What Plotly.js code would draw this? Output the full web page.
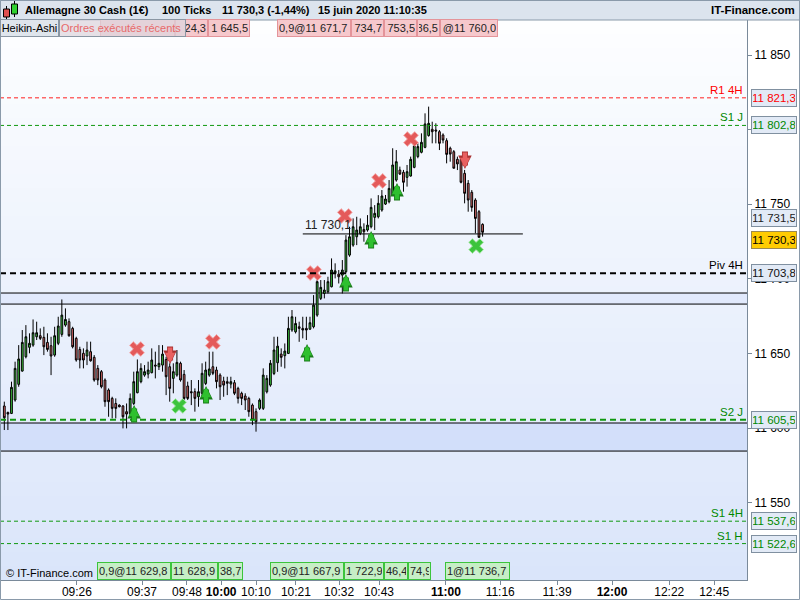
<!DOCTYPE html>
<html><head><meta charset="utf-8">
<script src="https://cdn.plot.ly/plotly-3.0.1.min.js"></script>
<style>html,body{margin:0;padding:0;background:#fff}#chart{width:800px;height:600px}</style>
</head><body><div id="chart"></div>
<script>
// ---- Heikin-Ashi candles (100 ticks each), in time order ----
const open = [11614.8,11610.5,11609.8,11618.8,11629.3,11638.2,11647.8,11654.1,11655.6,11661.2,
11661.9,11660.8,11657.4,11655.2,11648.9,11656.8,11662.8,11669.0,11671.3,11666.8,
11660.1,11652.7,11650.1,11648.3,11651.2,11647.4,11640.0,11637.8,11632.2,11625.5,
11619.9,11616.5,11615.4,11614.8,11611.0,11609.8,11616.5,11623.7,11631.1,11635.5,
11636.2,11637.1,11642.2,11641.1,11642.2,11646.0,11641.1,11633.3,11635.5,11643.4,
11636.0,11628.2,11624.4,11624.4,11621.0,11623.3,11629.9,11635.5,11641.1,11638.9,
11635.5,11631.5,11631.1,11629.5,11630.4,11626.6,11623.3,11621.5,11619.9,11615.4,
11611.0,11613.2,11613.2,11624.3,11628.8,11636.6,11643.8,11649.6,11648.5,11650.0,
11665.7,11664.5,11667.9,11666.8,11666.8,11666.3,11667.9,11675.7,11686.9,11690.2,
11691.4,11694.7,11703.6,11703.2,11702.5,11704.8,11715.9,11722.6,11728.2,11730.5,
11733.1,11732.7,11734.9,11741.2,11741.6,11746.1,11750.1,11751.7,11756.2,11766.2,
11772.9,11771.4,11768.0,11768.9,11774.7,11781.9,11784.8,11788.1,11796.0,11800.2,
11799.7,11798.6,11796.4,11792.6,11787.5,11785.2,11780.1,11780.1,11770.7,11764.0,
11758.0,11752.8,11745.0,11736.5];
const high = [11617.7,11611.0,11631.1,11644.5,11655.6,11665.7,11669.0,11663.5,11672.8,11671.3,
11666.8,11667.9,11663.5,11661.2,11667.9,11674.6,11686.2,11680.2,11673.5,11667.9,
11661.2,11654.5,11653.4,11657.9,11657.9,11648.9,11642.2,11638.9,11633.3,11626.6,
11621.0,11619.9,11615.9,11615.4,11616.5,11623.2,11637.8,11646.0,11643.4,11642.2,
11644.5,11653.4,11651.2,11655.6,11655.6,11647.8,11643.4,11643.4,11652.3,11644.5,
11638.9,11631.1,11632.2,11626.6,11632.2,11643.4,11644.5,11651.2,11651.2,11641.1,
11636.7,11634.4,11634.4,11634.4,11632.2,11627.7,11624.4,11623.3,11621.0,11616.5,
11613.2,11619.9,11640.0,11635.5,11645.6,11661.2,11661.2,11653.4,11656.7,11674.6,
11679.1,11674.6,11671.3,11674.6,11674.6,11674.6,11689.1,11701.4,11699.2,11699.2,
11701.4,11713.7,11710.4,11705.9,11712.6,11729.3,11734.9,11740.5,11741.6,11740.5,
11737.2,11742.7,11753.9,11749.4,11756.1,11759.5,11756.2,11766.2,11787.5,11786.3,
11775.2,11773.0,11776.3,11781.9,11791.9,11790.8,11797.5,11810.9,11815.4,11805.3,
11804.2,11799.7,11797.5,11794.2,11788.6,11786.3,11781.9,11781.9,11773.0,11766.2,
11759.5,11754.0,11746.1,11737.2];
const low = [11598.7,11598.7,11609.4,11617.7,11627.7,11637.8,11646.7,11650.1,11654.5,11659.0,
11659.0,11648.9,11651.2,11635.5,11647.8,11655.6,11661.2,11667.9,11661.2,11653.4,
11644.5,11640.0,11640.0,11642.2,11644.5,11631.1,11628.8,11626.6,11614.3,11607.6,
11606.5,11606.5,11613.9,11599.8,11599.8,11608.7,11615.4,11623.3,11630.0,11634.4,
11633.3,11636.7,11633.3,11638.9,11637.8,11622.1,11617.7,11623.3,11634.4,11631.1,
11617.7,11618.8,11615.4,11611.0,11614.3,11621.0,11628.8,11634.4,11635.5,11626.6,
11618.8,11621.0,11622.1,11626.6,11622.1,11616.5,11615.4,11612.1,11607.6,11602.0,
11597.6,11612.1,11612.1,11623.2,11627.7,11635.5,11637.7,11641.1,11640.0,11649.6,
11664.5,11663.4,11657.8,11660.1,11659.0,11665.7,11666.8,11674.6,11685.8,11686.9,
11690.2,11694.3,11700.3,11696.9,11690.2,11703.6,11714.8,11721.5,11722.6,11729.3,
11724.9,11731.6,11733.8,11732.7,11740.5,11745.0,11749.5,11750.6,11756.2,11765.1,
11769.6,11758.4,11761.8,11768.5,11774.1,11780.8,11784.1,11787.5,11795.3,11790.8,
11790.8,11786.3,11790.8,11777.4,11778.5,11774.1,11772.9,11764.0,11750.6,11745.0,
11745.0,11730.5,11727.8,11728.3];
const close = [11606.9,11609.4,11627.3,11640.0,11646.3,11657.4,11661.2,11656.8,11663.9,11663.9,
11660.1,11654.5,11652.7,11648.3,11661.9,11668.4,11675.7,11672.8,11661.9,11654.5,
11645.6,11645.6,11645.6,11652.3,11645.1,11632.2,11632.2,11627.7,11617.7,11617.7,
11613.2,11613.2,11614.3,11607.6,11609.4,11619.9,11631.1,11637.8,11640.0,11637.8,
11638.9,11645.6,11641.6,11643.4,11649.6,11634.4,11626.6,11637.8,11644.0,11632.2,
11619.9,11619.9,11623.7,11619.9,11624.4,11636.7,11638.9,11639.6,11636.7,11631.1,
11627.7,11628.8,11630.0,11631.1,11623.3,11619.9,11619.9,11618.8,11611.0,11605.4,
11604.3,11618.8,11635.5,11633.3,11643.4,11652.3,11654.9,11647.4,11651.6,11666.8,
11674.6,11670.1,11666.8,11665.7,11665.7,11670.6,11682.4,11698.1,11694.3,11692.5,
11698.1,11705.9,11705.4,11701.4,11705.9,11726.0,11728.2,11734.9,11732.7,11734.9,
11731.6,11736.0,11747.9,11743.9,11750.6,11755.5,11753.5,11760.6,11776.3,11778.5,
11770.2,11764.7,11771.8,11780.1,11789.2,11788.6,11791.5,11803.8,11804.2,11798.6,
11799.1,11790.8,11793.0,11783.4,11783.6,11774.1,11777.0,11764.7,11757.3,11752.8,
11747.9,11740.5,11727.8,11731.2];

// ---- time axis (tick chart: labels placed at candle slots) ----
const tickSlots  = [20.2,38.3,50.8,60.3,70.0,81.1,93.1,104.2,122.8,137.9,153.7,169.0,184.9,197.4];
const tickLabels = ["09:26","09:37","09:48","10:00","10:10","10:21","10:32","10:43","11:00","11:16","11:39","12:00","12:22","12:45"];
const boldTicks  = ["10:00","11:00","12:00"];

// ---- price levels ----
const levelNames  = ["R1 4H","S1 J","Piv 4H","S2 J","S1 4H","S1 H"];
const levelPrices = [11821.3,11802.8,11703.8,11605.5,11537.6,11522.6];
const levelText   = ["11 821,3","11 802,8","11 703,8","11 605,5","11 537,6","11 522,6"];
const bandLow  = [11683.1,11584.6];
const bandHigh = [11690.5,11603.4];
const orderLevel = 11730.1, orderFrom = 83, orderTo = 144.2;
const lastPrice = 11730.3, prevClose = 11731.5;

// ---- executions markers ----
const sellX = [36.9,58.0,86.1,94.7,104.2,113.1];
const sellY = [11653.0,11657.7,11703.9,11742.1,11765.6,11793.7];
const buyX  = [48.6,131.2];
const buyY  = [11614.8,11722.0];
const upX = [36.1,56.1,84.2,95.0,102.0,109.2];
const upY = [11615.5,11628.2,11656.3,11703.2,11732.1,11764.2];
const downX = [46.1,128.1];
const downY = [11642.9,11773.6];

// ---- order boxes (top: pink, bottom: green) ----
const topBoxText = ["","24,3","1 645,5","0,9@11 671,7","734,7","753,5","86,5","@11 760,0"];
const botBoxText = ["0,9@11 629,8","11 628,9","38,7","0,9@11 667,9","1 722,9","46,4","74,9","1@11 736,7"];

const idx = open.map((_, i) => i);
const F = "Liberation Sans, Arial, sans-serif";
const W = 747, H = 560; // plot area in px
const PX = x => x / W, PY = y => (580 - y) / H;

const shapes = [];
// background gradient
const nb = 40;
for (let k = 0; k < nb; k++) {
  const t = (k + 0.5) / nb;
  const r = Math.round(253 - (253 - 218) * t), g = Math.round(254 - (254 - 229) * t), b = 255 - Math.round(5 * t);
  shapes.push({type:"rect", xref:"paper", yref:"paper", x0:0, x1:1, y0:1 - (k + 1) / nb, y1:1 - k / nb,
    fillcolor:`rgb(${r},${g},${b})`, line:{width:0}, layer:"below"});
}
// bands
for (let k = 0; k < bandLow.length; k++) {
  shapes.push({type:"rect", xref:"paper", yref:"y", x0:0, x1:1, y0:bandLow[k], y1:bandHigh[k],
    fillcolor: k === 1 ? "rgba(200,215,250,0.6)" : "rgba(205,218,248,0.35)", line:{width:0}, layer:"below"});
  [bandLow[k], bandHigh[k]].forEach(v => shapes.push({type:"line", xref:"paper", yref:"y", x0:0, x1:1, y0:v, y1:v,
    line:{color:"#000", width:1}, layer:"below"}));
}
// level lines
const levelStyle = [
  {color:"#ff2020", width:1, dash:"4px,3px"},
  {color:"#119911", width:1, dash:"4px,3px"},
  {color:"#000000", width:2, dash:"6px,4px"},
  {color:"#119911", width:2, dash:"6px,4px"},
  {color:"#119911", width:1, dash:"4px,3px"},
  {color:"#119911", width:1, dash:"4px,3px"}];
levelPrices.forEach((v, k) => shapes.push({type:"line", xref:"paper", yref:"y", x0:0, x1:1, y0:v, y1:v, line:levelStyle[k]}));
// order level line
shapes.push({type:"line", xref:"x", yref:"y", x0:orderFrom, x1:orderTo, y0:orderLevel, y1:orderLevel, line:{color:"#000", width:1}});
// header bar
shapes.push({type:"rect", xref:"paper", yref:"paper", x0:0, x1:800 / W, y0:1, y1:1 + 20 / H, fillcolor:"#dce4ee", line:{color:"#8a9aaa", width:1}});
// icon
shapes.push({type:"line", xref:"paper", yref:"paper", x0:PX(6.5), x1:PX(6.5), y0:PY(19), y1:PY(6), line:{color:"#000", width:1}});
shapes.push({type:"rect", xref:"paper", yref:"paper", x0:PX(3.5), x1:PX(9.5), y0:PY(17), y1:PY(9), fillcolor:"#e05050", line:{color:"#000", width:1}});
shapes.push({type:"line", xref:"paper", yref:"paper", x0:PX(14.5), x1:PX(14.5), y0:PY(17), y1:PY(1), line:{color:"#000", width:1}});
shapes.push({type:"rect", xref:"paper", yref:"paper", x0:PX(11.5), x1:PX(17.5), y0:PY(14), y1:PY(4), fillcolor:"#30d030", line:{color:"#000", width:1}});
// outer frame
shapes.push({type:"rect", xref:"paper", yref:"paper", x0:PX(0.5), x1:PX(799.5), y0:PY(599.5), y1:PY(0.5), line:{color:"#8a9aaa", width:1}});

const BF = 11; // box font size
const ann = [];
function box(x0, x1, yc, text, opt) {
  ann.push(Object.assign({xref:"paper", yref:"paper", x:PX(x0), xanchor:"left", y:PY(yc), yanchor:"middle",
    text:text, showarrow:false, width:x1 - x0 - 4, height:14, borderpad:1, borderwidth:1,
    font:{family:F, size:BF, color:"#222"}}, opt));
}
// header texts
const head = [[23,"Allemagne 30 Cash (1€)"],[160,"100 Ticks"],[220,"11 730,3 (-1,44%)"],[316,"15 juin 2020 11:10:35"]];
head.forEach(h => ann.push({xref:"paper", yref:"paper", x:PX(h[0]), xanchor:"left", y:PY(10), yanchor:"middle", showarrow:false,
  text:"<b>" + h[1] + "</b>", font:{family:F, size:11, color:"#000"}}));
ann.push({xref:"paper", yref:"paper", x:PX(797), xanchor:"right", y:PY(10), yanchor:"middle", showarrow:false,
  text:"<b>IT-Finance.com</b>", font:{family:F, size:11.5, color:"#000"}});
// top pink boxes
const topEdges = [[100,175],[175,208],[208,250],[277,351],[351,384],[384,417],[417,440],[440,498]];
topEdges.forEach((e, k) => box(e[0], e[1], 28.5, topBoxText[k], {bgcolor:"#f6c8cc", bordercolor:"#e4949a", align: k === 3 ? "left" : "right"}));
box(0, 59, 28.5, "Heikin-Ashi", {bgcolor:"#dfe5ec", bordercolor:"#8a96a3", font:{family:F, size:BF, color:"#000"}});
box(59, 186, 28.5, "Ordres exécutés récents", {bgcolor:"rgba(222,214,222,0.75)", bordercolor:"#8a96a3", align:"left", font:{family:F, size:BF, color:"#e86a6a"}});
// bottom green boxes
const botEdges = [[97,171],[171,218],[218,243],[270,344],[344,384],[384,408],[408,431],[445,510]];
botEdges.forEach((e, k) => box(e[0], e[1], 571, botBoxText[k], {bgcolor:"#c6eec6", bordercolor:"#3cc43c", align:"left"}));
ann.push({xref:"paper", yref:"paper", x:PX(4), xanchor:"left", y:PY(573), yanchor:"middle", showarrow:false,
  text:"© IT-Finance.com", font:{family:F, size:11, color:"#000"}});
// level labels and axis boxes
const levelColor = ["#ff0000","#008800","#000000","#008800","#008800","#008800"];
levelPrices.forEach((v, k) => {
  ann.push({xref:"paper", yref:"y", x:PX(745), xanchor:"right", y:v, yanchor:"bottom", showarrow:false,
    text:levelNames[k], font:{family:F, size:11.5, color:levelColor[k]}});
  ann.push({xref:"paper", yref:"y", x:PX(751), xanchor:"left", y:v, yanchor:"middle", showarrow:false,
    text:levelText[k], width:42, height:14, borderpad:1, borderwidth:1, bordercolor:"#8090a0", bgcolor:"#e2eaf6",
    font:{family:F, size:BF + 0.5, color:levelColor[k] === "#000000" ? "#111" : levelColor[k]}});
});
ann.push({xref:"paper", yref:"y", x:PX(751), xanchor:"left", y:prevClose, yanchor:"middle", yshift:14, showarrow:false,
  text:"11 731,5", width:42, height:14, borderpad:1, borderwidth:1, bordercolor:"#8090a0", bgcolor:"#e2eaf6",
  font:{family:F, size:BF + 0.5, color:"#222"}});
ann.push({xref:"paper", yref:"y", x:PX(751), xanchor:"left", y:lastPrice, yanchor:"middle", yshift:-6, showarrow:false,
  text:"11 730,3", width:42, height:14, borderpad:1, borderwidth:1, bordercolor:"#9a8a50", bgcolor:"#ffcc00",
  font:{family:F, size:BF + 0.5, color:"#000"}});
ann.push({xref:"x", yref:"y", x:orderFrom, xanchor:"left", y:orderLevel, yanchor:"bottom", showarrow:false,
  text:"11 730,1", font:{family:F, size:12, color:"#222"}});
// arrows (outline drawn first, fill on top)
function arrow(x, y, dir, fill, edge) {
  ann.push({xref:"x", yref:"y", x:x, y:y, ax:0, ay:19 * dir, text:"", showarrow:true,
    arrowhead:2, arrowsize:0.45, arrowwidth:6, arrowcolor:edge});
  ann.push({xref:"x", yref:"y", x:x, y:y, ax:0, ay:18 * dir, text:"", showarrow:true, standoff:1.2,
    arrowhead:2, arrowsize:0.45, arrowwidth:4.5, arrowcolor:fill});
}
upX.forEach((x, k) => arrow(x, upY[k], 1, "#2fc02f", "#1a7a1a"));
downX.forEach((x, k) => arrow(x, downY[k], -1, "#e86060", "#a83030"));

const traces = [
  {type:"candlestick", x:idx, open:open, high:high, low:low, close:close, hoverinfo:"skip",
   increasing:{line:{color:"#000", width:1}, fillcolor:"#3ec83e"},
   decreasing:{line:{color:"#000", width:1}, fillcolor:"#e36c6c"}, whiskerwidth:0},
  {type:"scatter", mode:"markers", x:sellX, y:sellY, hoverinfo:"skip",
   marker:{symbol:"x", size:13, color:"#e45a5a", line:{color:"#f4a8a8", width:1}}},
  {type:"scatter", mode:"markers", x:buyX, y:buyY, hoverinfo:"skip",
   marker:{symbol:"x", size:13, color:"#3cc43c", line:{color:"#a8e8a8", width:1}}}
];

const layout = {
  width:800, height:600, margin:{l:0, r:53, t:20, b:20, pad:0},
  paper_bgcolor:"#ffffff", plot_bgcolor:"#f2f5fd", showlegend:false, hovermode:false,
  font:{family:F, size:12, color:"#000"},
  xaxis:{range:[-1.196, 206.53], rangeslider:{visible:false}, showgrid:false, zeroline:false,
    tickmode:"array", tickvals:tickSlots,
    ticktext:tickLabels.map(t => boldTicks.includes(t) ? "<b>" + t + "</b>" : t),
    ticks:"outside", ticklen:4, tickcolor:"#7a8a9a", showline:true, linecolor:"#7a8a9a",
    ticklabelstandoff:-3,
    tickfont:{family:F, size:12, color:"#000"}},
  yaxis:{side:"right", range:[11498.2, 11873.45], showgrid:false, zeroline:false,
    tickmode:"array", tickvals:[11550,11600,11650,11700,11750,11800,11850],
    ticktext:["11 550","11 600","11 650","11 700","11 750","","11 850"],
    ticks:"outside", ticklen:4, tickcolor:"#7a8a9a", showline:true, linecolor:"#7a8a9a",
    tickfont:{family:F, size:12, color:"#000"}},
  shapes:shapes, annotations:ann
};
Plotly.newPlot("chart", traces, layout, {staticPlot:true, displayModeBar:false});
</script></body></html>
